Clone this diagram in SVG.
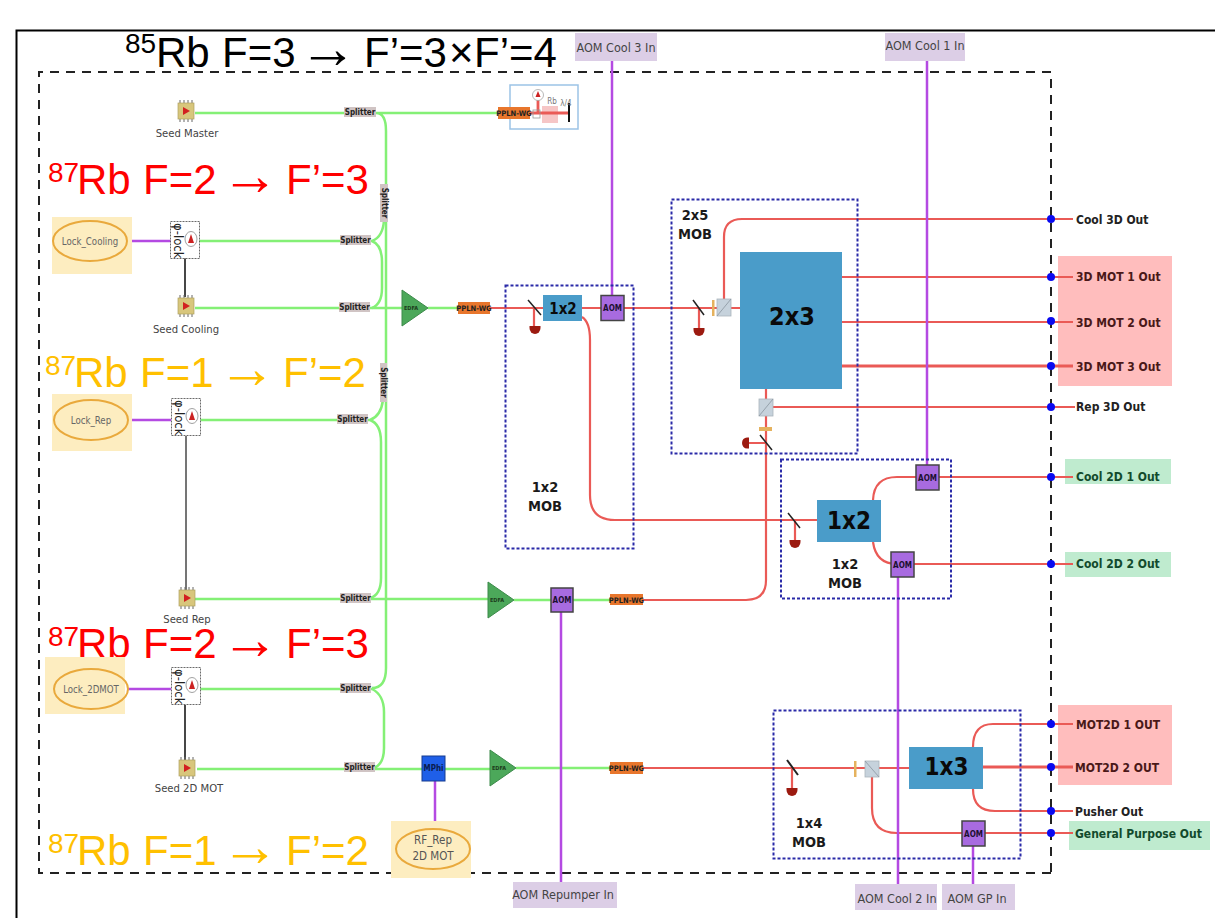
<svg xmlns="http://www.w3.org/2000/svg" xmlns:xlink="http://www.w3.org/1999/xlink" width="1215" height="918" viewBox="0 0 1215 918">
<style>
text{font-family:"DejaVu Sans",sans-serif;font-stretch:condensed}
.big{font-family:"Liberation Sans",Arial,sans-serif;font-size:42px;font-stretch:normal}
.sup{font-size:28px}
.arr{font-family:"Liberation Serif",serif;font-size:58px}
.k{fill:#000}.r{fill:#FF0000}.o{fill:#FFC000}
.frame{fill:none;stroke:#000;stroke-width:2}
.dash{fill:none;stroke:#222;stroke-width:2;stroke-dasharray:9 7}
.mob{fill:none;stroke:#2A2AA8;stroke-width:2;stroke-dasharray:3 2}
.g{fill:none;stroke:#84F076;stroke-width:2.5}
.red{fill:none;stroke:#EA5A56;stroke-width:2.2}
.redb{fill:none;stroke:#EA5A56;stroke-width:2.8}
.p{fill:none;stroke:#B44AE2;stroke-width:2.5}
.bk{fill:none;stroke:#333;stroke-width:1.8}
.gr{fill:none;stroke:#666;stroke-width:1.8}
.hl{fill:#FDEDC0}
.ell{fill:none;stroke:#E9A93C;stroke-width:2}
.lbl{font-size:9.6px;fill:#666;text-anchor:middle}
.lbl2{font-size:11.5px;fill:#555;text-anchor:middle}
.seedt{font-size:11.2px;fill:#444;text-anchor:middle}
.in{fill:#DCCEE6}
.int{font-size:12.5px;fill:#444;text-anchor:middle}
.out{font-size:12px;font-weight:bold;fill:#222}
.outp{fill:#4A1818}.outg{fill:#124A2C}
.pink{fill:#FFBDBD}.grn{fill:#BFEBCF}
.blk{fill:#4A9CC9}
.blkt{font-weight:bold;fill:#0A0A0A;text-anchor:middle}
.mobt{font-size:14.5px;font-weight:bold;fill:#1A1A1A;text-anchor:middle}
.sp{fill:#D0C4C4}
.spt{font-size:8px;font-weight:bold;fill:#222;text-anchor:middle}
.ppln{fill:#E8762C}
.pplnt{font-size:7.5px;font-weight:bold;fill:#222;text-anchor:middle}
.edfa{fill:#4CA85A;stroke:#3C8A4A}
.edfat{font-size:5.5px;font-weight:bold;fill:#1C3C1C;text-anchor:middle}
.aom{fill:#A86BE0;stroke:#444;stroke-width:1.5}
.aomt{font-size:8px;font-weight:bold;fill:#1C1030;text-anchor:middle}
.cube{fill:#C6D2DC;stroke:#AAB4BC;stroke-width:.8}
.wp{fill:#E5B25E}
.mir{stroke:#222;stroke-width:1.5;fill:none}
.dot{fill:#0A0AF0}
</style>
<defs>
<g id="seed"><path d="M-6,-11V-8M-2,-11V-8M2,-11V-8M6,-11V-8M-6,8V11M-2,8V11M2,8V11M6,8V11" stroke="#666" stroke-width="1" fill="none"/><rect x="-8" y="-8" width="16" height="16" fill="#D8C67C" stroke="#AFA060" stroke-width=".7"/><path d="M-3,-4L4,0L-3,4Z" fill="#D22020"/></g>
<g id="lock"><rect x="-14.5" y="-18.5" width="29" height="37" fill="#fff" stroke="#444" stroke-width=".8" stroke-dasharray="2 1"/><text transform="translate(-11.5,-17) rotate(90)" font-size="13" fill="#222" style="font-family:'DejaVu Sans',sans-serif">φ-lock</text><ellipse cx="6" cy="-1" rx="6" ry="7.5" fill="#fff" stroke="#777" stroke-width=".7"/><path d="M6,-6L9,3H3Z" fill="#CC2222"/></g>
<path id="det" d="M-5.5,0H5.5V2A5.5,6 0 0 1 -5.5,2Z" fill="#9C1A10"/>
</defs>

<rect width="1215" height="918" fill="#fff"/>
<path class="frame" d="M16.500,918V30.500H1215"/>
<path class="dash" d="M1051,873H39V72H1051Z"/>

<g id="highlights">
<rect class="pink" x="1058" y="256" width="114" height="130"/>
<rect class="pink" x="1058" y="705" width="114" height="80"/>
<rect class="grn" x="1065" y="459" width="106" height="25"/>
<rect class="grn" x="1065" y="552" width="106" height="25"/>
<rect class="grn" x="1069" y="821" width="141" height="29"/>
</g>

<g id="connectors">
<path class="g" d="M195,113H498M376,113Q386,113 386,131V668Q386,688 372,688"/>
<path class="g" d="M199,241H372M372,241Q383,237 384,220M372,241Q382,245 382,262V288Q382,304 372,308"/>
<path class="g" d="M195,308H402M428,308H458"/>
<path class="g" d="M200,420H370M370,420Q381,416 383,400M370,420Q381,424 381,442V578Q381,595 370,598"/>
<path class="g" d="M195,599H488M514,600H610"/>
<path class="g" d="M200,689H372M372,689Q384,695 384,712V748Q384,764 374,768"/>
<path class="g" d="M197,769H490M516,768H610"/>
<path class="red" d="M490,308H741"/>
<path class="red" d="M534,308V326M699,308V328"/>
<path class="red" d="M582,317Q590,322 590,340V495Q590,520 615,520H817M795,521V540"/>
<path class="red" d="M724,308V237Q724,219 742,219H1073"/>
<path class="red" d="M842,277H1073"/>
<path class="red" d="M842,322H1073"/>
<path class="redb" d="M842,366H1073"/>
<path class="red" d="M766,389V580Q766,600 746,600H643"/>
<path class="red" d="M773,407H1075M766,443H747"/>
<path class="red" d="M873,500Q874,477 897,477H1073"/>
<path class="red" d="M873,542Q876,564 897,564H1073"/>
<path class="red" d="M643,768H909M792,768V788"/>
<path class="red" d="M872,775V808Q872,833 897,833H1073"/>
<path class="red" d="M973,747Q973,724 993,724H1073"/>
<path class="redb" d="M983,767H1073"/>
<path class="red" d="M973,789Q973,811 995,811H1073"/>
<path class="p" d="M612,60V296"/>
<path class="p" d="M927,60V465"/>
<path class="p" d="M898,577V885"/>
<path class="p" d="M973,846V885"/>
<path class="p" d="M561,612V882"/>
<path class="p" d="M435,781V826"/>
<path class="p" d="M128,241H171M128,420H171M127,689H171"/>
<path class="bk" d="M185,258V297M185,705V760"/>
<path class="gr" d="M186,436V590"/>
</g>

<g id="mob-1x2-a"><rect class="mob" x="505.500" y="285.500" width="128" height="263"/><text class="mobt" x="545" y="492">1x2</text><text class="mobt" x="545" y="511">MOB</text></g>
<g id="mob-2x5"><rect class="mob" x="671.500" y="199.500" width="186" height="254"/><text class="mobt" x="695" y="220">2x5</text><text class="mobt" x="695" y="239">MOB</text></g>
<g id="mob-1x2-b"><rect class="mob" x="781" y="459.500" width="170" height="139"/><text class="mobt" x="845" y="569">1x2</text><text class="mobt" x="845" y="588">MOB</text></g>
<g id="mob-1x4"><rect class="mob" x="773.500" y="710.500" width="247" height="148"/><text class="mobt" x="809" y="828">1x4</text><text class="mobt" x="809" y="847">MOB</text></g>

<g id="title"><text class="big k"><tspan class="sup" x="125" y="53">85</tspan><tspan x="156" y="67">Rb</tspan><tspan x="222" y="67">F=3</tspan><tspan class="arr" x="299" y="68">→</tspan><tspan x="364" y="67">F’=3</tspan><tspan x="449" y="67">×</tspan><tspan x="474" y="67">F’=4</tspan></text></g>
<g id="line-1"><text class="big r"><tspan class="sup" x="48" y="182">87</tspan><tspan x="77" y="194">Rb</tspan><tspan x="143" y="194">F=2</tspan><tspan class="arr" x="221" y="195">→</tspan><tspan x="286" y="194">F’=3</tspan></text></g>
<g id="line-2"><text class="big o"><tspan class="sup" x="45" y="375">87</tspan><tspan x="74" y="387">Rb</tspan><tspan x="140" y="387">F=1</tspan><tspan class="arr" x="218" y="388">→</tspan><tspan x="283" y="387">F’=2</tspan></text></g>
<g id="line-3"><text class="big r"><tspan class="sup" x="48" y="646">87</tspan><tspan x="77" y="658">Rb</tspan><tspan x="143" y="658">F=2</tspan><tspan class="arr" x="221" y="659">→</tspan><tspan x="286" y="658">F’=3</tspan></text></g>
<g id="line-4"><text class="big o"><tspan class="sup" x="48" y="853">87</tspan><tspan x="77" y="865">Rb</tspan><tspan x="143" y="865">F=1</tspan><tspan class="arr" x="221" y="866">→</tspan><tspan x="286" y="865">F’=2</tspan></text></g>

<g id="lock-cooling"><rect class="hl" x="52" y="217" width="80" height="57"/><ellipse class="ell" cx="90" cy="241" rx="37" ry="20"/><text class="lbl" x="90" y="245">Lock_Cooling</text></g>
<g id="lock-rep"><rect class="hl" x="52" y="394" width="80" height="57"/><ellipse class="ell" cx="91" cy="420" rx="37" ry="20"/><text class="lbl" x="91" y="424">Lock_Rep</text></g>
<g id="lock-2dmot"><rect class="hl" x="45" y="657" width="80" height="57"/><ellipse class="ell" cx="91" cy="689" rx="37" ry="20"/><text class="lbl" x="91" y="693">Lock_2DMOT</text></g>
<g id="rf-rep"><rect class="hl" x="391" y="821" width="80" height="57"/><ellipse class="ell" cx="433" cy="849" rx="37" ry="20"/><text class="lbl2" x="433" y="844">RF_Rep</text><text class="lbl2" x="433" y="860">2D MOT</text></g>

<g id="plock-1"><use xlink:href="#lock" x="185" y="240"/></g>
<g id="plock-2"><use xlink:href="#lock" x="186" y="417"/></g>
<g id="plock-3"><use xlink:href="#lock" x="186" y="686"/></g>

<g id="seed-master"><use xlink:href="#seed" x="186" y="111"/><text class="seedt" x="187" y="137">Seed Master</text></g>
<g id="seed-cooling"><use xlink:href="#seed" x="186" y="306"/><text class="seedt" x="186" y="333">Seed Cooling</text></g>
<g id="seed-rep"><use xlink:href="#seed" x="187" y="598"/><text class="seedt" x="187" y="623">Seed Rep</text></g>
<g id="seed-2d"><use xlink:href="#seed" x="187" y="768"/><text class="seedt" x="189" y="792">Seed 2D MOT</text></g>

<g id="splitters">
<rect class="sp" x="344" y="107" width="32" height="10"/><text class="spt" x="360" y="114.500">Splitter</text>
<rect class="sp" x="340" y="235" width="31" height="10"/><text class="spt" x="355.500" y="242.500">Splitter</text>
<rect class="sp" x="339" y="302" width="31" height="10"/><text class="spt" x="354.500" y="309.500">Splitter</text>
<rect class="sp" x="337" y="414" width="31" height="10"/><text class="spt" x="352.500" y="421.500">Splitter</text>
<rect class="sp" x="340" y="593" width="31" height="10"/><text class="spt" x="355.500" y="600.500">Splitter</text>
<rect class="sp" x="340" y="683" width="31" height="10"/><text class="spt" x="355.500" y="690.500">Splitter</text>
<rect class="sp" x="344" y="762" width="31" height="10"/><text class="spt" x="359.500" y="769.500">Splitter</text>
<rect class="sp" x="380" y="184" width="8" height="38"/><text class="spt" transform="translate(381.500,203) rotate(90)">Splitter</text>
<rect class="sp" x="380" y="363" width="7" height="39"/><text class="spt" transform="translate(381,382.500) rotate(90)">Splitter</text>
</g>

<g id="rb-cell"><rect x="510" y="85" width="68" height="44" fill="#fff" stroke="#9CC3E6" stroke-width="1.500"/><rect x="542" y="106" width="16" height="17" fill="#F6C6C6"/><path class="redb" d="M530,113H569M538,99V113"/><rect x="533" y="110" width="7" height="8" fill="none" stroke="#999" stroke-width=".8"/><circle cx="538" cy="95" r="5.500" fill="#fff" stroke="#999" stroke-width=".7"/><path d="M538,91L540.500,97H535.500Z" fill="#CC2222"/><path d="M569,103V122" stroke="#111" stroke-width="2"/><text x="552" y="104" font-size="8" fill="#777" text-anchor="middle">Rb</text><text x="566" y="106" font-size="8" fill="#777" text-anchor="middle">λ/4</text></g>

<g id="ppln-1"><rect class="ppln" x="498" y="107" width="32" height="12"/><text class="pplnt" x="514" y="116">PPLN-WG</text></g>
<g id="ppln-2"><rect class="ppln" x="458" y="302" width="32" height="12"/><text class="pplnt" x="474" y="311">PPLN-WG</text></g>
<g id="ppln-3"><rect class="ppln" x="610" y="594" width="33" height="11"/><text class="pplnt" x="626.500" y="602.500">PPLN-WG</text></g>
<g id="ppln-4"><rect class="ppln" x="610" y="762" width="33" height="12"/><text class="pplnt" x="626.500" y="771">PPLN-WG</text></g>

<g id="edfa-1"><path class="edfa" d="M402,290L428,308L402,326Z"/><text class="edfat" x="411" y="310">EDFA</text></g>
<g id="edfa-2"><path class="edfa" d="M488,582L514,600L488,618Z"/><text class="edfat" x="497" y="602">EDFA</text></g>
<g id="edfa-3"><path class="edfa" d="M490,750L516,768L490,786Z"/><text class="edfat" x="499" y="770">EDFA</text></g>
<g id="mphi"><rect x="422" y="756" width="23" height="25" fill="#1F5FE8" stroke="#163C90" stroke-width="1"/><text x="433.500" y="771" font-size="8" font-weight="bold" fill="#0A1C50" text-anchor="middle">MPhi</text></g>

<g id="aom-cool3"><rect class="aom" x="601" y="295.500" width="23" height="25"/><text class="aomt" x="612.500" y="311">AOM</text></g>
<g id="aom-rep"><rect class="aom" x="551" y="588" width="22" height="24"/><text class="aomt" x="562" y="603">AOM</text></g>
<g id="aom-cool1"><rect class="aom" x="916" y="465" width="23" height="25"/><text class="aomt" x="927.500" y="481">AOM</text></g>
<g id="aom-cool2"><rect class="aom" x="891" y="552" width="23" height="25"/><text class="aomt" x="902.500" y="568">AOM</text></g>
<g id="aom-gp"><rect class="aom" x="962" y="821" width="23" height="25"/><text class="aomt" x="973.500" y="837">AOM</text></g>

<g id="split-1x2-a"><rect class="blk" x="543" y="295" width="39" height="26"/><text class="blkt" x="563" y="313.500" font-size="15">1x2</text></g>
<g id="split-2x3"><rect class="blk" x="740" y="252" width="102" height="137"/><text class="blkt" x="792" y="325" font-size="25">2x3</text></g>
<g id="split-1x2-b"><rect class="blk" x="817" y="500" width="64" height="42"/><text class="blkt" x="849" y="529" font-size="24">1x2</text></g>
<g id="split-1x3"><rect class="blk" x="909" y="747" width="74" height="42"/><text class="blkt" x="946.500" y="775" font-size="24">1x3</text></g>

<g id="optics">
<path class="mir" d="M528,300L541,315"/><use xlink:href="#det" x="535" y="326"/>
<path class="mir" d="M693,300L704,315"/><use xlink:href="#det" x="699" y="328"/>
<rect class="wp" x="712" y="300" width="2.500" height="16"/><rect class="cube" x="717" y="299" width="14" height="17"/><path d="M717,316L731,299" stroke="#8A95A0" stroke-width=".8"/>
<rect class="cube" x="759" y="399" width="14" height="17"/><path d="M759,416L773,399" stroke="#8A95A0" stroke-width=".8"/>
<rect class="wp" x="759" y="427" width="13" height="4"/>
<path class="mir" d="M760,435L772,450"/>
<path d="M749,437.500V448.500H747A5,5.500 0 0 1 747,437.500Z" fill="#9C1A10"/>
<path class="mir" d="M788,513L800,528"/><use xlink:href="#det" x="795" y="540"/>
<path class="mir" style="stroke-width:2" d="M787,760L798,775"/><use xlink:href="#det" x="792" y="788"/>
<rect class="wp" x="854" y="761" width="2.500" height="16"/><rect class="cube" x="865" y="761" width="14" height="16"/><path d="M865,761L879,777" stroke="#8A95A0" stroke-width=".8"/>
</g>

<g id="inputs">
<g id="in-cool3"><rect class="in" x="575" y="33" width="82" height="28"/><text class="int" x="616" y="52">AOM Cool 3 In</text></g>
<g id="in-cool1"><rect class="in" x="885" y="33" width="80" height="28"/><text class="int" x="925" y="50">AOM Cool 1 In</text></g>
<g id="in-rep"><rect class="in" x="513" y="882" width="104" height="26"/><text class="int" x="563" y="899">AOM Repumper In</text></g>
<g id="in-cool2"><rect class="in" x="855" y="884" width="82" height="26"/><text class="int" x="897" y="903">AOM Cool 2 In</text></g>
<g id="in-gp"><rect class="in" x="942" y="884" width="73" height="26"/><text class="int" x="977" y="903">AOM GP In</text></g>
</g>

<g id="outputs">
<circle class="dot" cx="1051" cy="219" r="4"/><text class="out" x="1076" y="224">Cool 3D Out</text>
<circle class="dot" cx="1051" cy="277" r="4"/><text class="out outp" x="1076" y="281">3D MOT 1 Out</text>
<circle class="dot" cx="1051" cy="321" r="4"/><text class="out outp" x="1076" y="327">3D MOT 2 Out</text>
<circle class="dot" cx="1051" cy="366" r="4"/><text class="out outp" x="1076" y="371">3D MOT 3 Out</text>
<circle class="dot" cx="1051" cy="407" r="4"/><text class="out" x="1076" y="411">Rep 3D Out</text>
<circle class="dot" cx="1051" cy="477" r="4"/><text class="out outg" x="1076" y="481">Cool 2D 1 Out</text>
<circle class="dot" cx="1051" cy="564" r="4"/><text class="out outg" x="1076" y="568">Cool 2D 2 Out</text>
<circle class="dot" cx="1051" cy="724" r="4"/><text class="out outp" x="1076" y="729">MOT2D 1 OUT</text>
<circle class="dot" cx="1051" cy="767" r="4"/><text class="out outp" x="1075" y="772">MOT2D 2 OUT</text>
<circle class="dot" cx="1051" cy="811" r="4"/><text class="out" x="1075" y="816">Pusher Out</text>
<circle class="dot" cx="1051" cy="833" r="4"/><text class="out outg" x="1075" y="838">General Purpose Out</text>
</g>
</svg>
